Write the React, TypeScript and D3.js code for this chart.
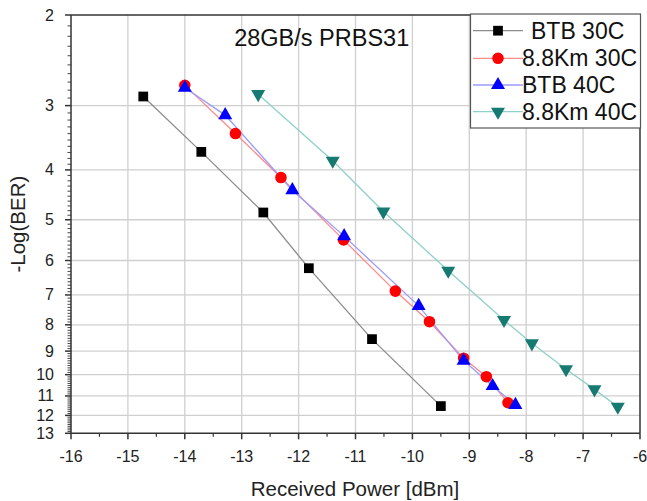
import React from "react";
import * as d3 from "d3";

const seriesNames = ["BTB 30C", "8.8Km 30C", "BTB 40C", "8.8Km 40C"];

const btb30X = [-14.73, -13.71, -12.62, -11.82, -10.71, -9.5];
const btb30Y = [2.88, 3.69, 4.84, 6.21, 8.53, 11.51];

const km30X = [-14.0, -13.11, -12.31, -11.21, -10.3, -9.7, -9.1, -8.7, -8.32];
const km30Y = [2.74, 3.4, 4.14, 5.47, 6.88, 7.89, 9.29, 10.09, 11.34];

const btb40X = [-14.0, -13.29, -12.11, -11.2, -9.89, -9.1, -8.59, -8.19];
const btb40Y = [2.77, 3.13, 4.38, 5.38, 7.35, 9.39, 10.52, 11.45];

const km40X = [-12.71, -11.4, -10.51, -9.37, -8.39, -7.9, -7.3, -6.8, -6.39];
const km40Y = [2.85, 3.84, 4.82, 6.28, 7.83, 8.69, 9.76, 10.68, 11.54];

const xTicks = [-16, -15, -14, -13, -12, -11, -10, -9, -8, -7, -6];
const yTicks = [2, 3, 4, 5, 6, 7, 8, 9, 10, 11, 12, 13];

const title = "28GB/s PRBS31";
const xLabel = "Received Power [dBm]";
const yLabel = "-Log(BER)";

const FONT = "'Liberation Sans', Arial, sans-serif";

const L = 71, R = 640, T = 15, B = 433.3;

const x = d3.scaleLinear().domain([-16, -6]).range([L, R]);
const y = d3.scaleLog().domain([2, 13]).range([T, B]);

type Style = { line: string; fill: string; shape: string; size: number };
const styles: Style[] = [
  { line: "#8c8c8c", fill: "#000000", shape: "square", size: 95 },
  { line: "#ff8a8a", fill: "#ff0000", shape: "circle", size: 105 },
  { line: "#9a9aff", fill: "#0000ff", shape: "tri", size: 85 },
  { line: "#8fd0c8", fill: "#167a72", shape: "tridown", size: 85 },
];

function markerPath(shape: string, size: number): string {
  if (shape === "square") return d3.symbol(d3.symbolSquare, size)()!;
  if (shape === "circle") return d3.symbol(d3.symbolCircle, size)()!;
  return d3.symbol(d3.symbolTriangle, size)()!;
}

export default function App() {
  const data = [
    { xs: btb30X, ys: btb30Y },
    { xs: km30X, ys: km30Y },
    { xs: btb40X, ys: btb40Y },
    { xs: km40X, ys: km40Y },
  ];
  const line = d3
    .line<[number, number]>()
    .x((d) => x(d[0]))
    .y((d) => y(d[1]));

  const minorY: number[] = [];
  for (let v = 2.1; v < 13; v += 0.1) {
    const r = Math.round(v * 10) / 10;
    if (Math.abs(r - Math.round(r)) > 1e-6) minorY.push(r);
  }
  const minorX: number[] = [];
  for (let v = -15.5; v < -6; v += 1) minorX.push(v);

  const legX0 = 473, legX1 = 523;
  const legYs = [30.7, 58.3, 85, 111.7];
  const legTextX = [531, 522, 522, 522];

  return (
    <svg
      width={647}
      height={501}
      style={{ position: "absolute", left: 0, top: 0, background: "#fff" }}
      fontFamily={FONT}
    >
      <rect x={0} y={0} width={647} height={501} fill="#fff" />
      {/* grid */}
      {xTicks.slice(1, -1).map((t) => (
        <line key={"gx" + t} x1={x(t)} x2={x(t)} y1={T} y2={B} stroke="#cfcfcf" strokeWidth={1.3} />
      ))}
      {yTicks.slice(1, -1).map((t) => (
        <line key={"gy" + t} x1={L} x2={R} y1={y(t)} y2={y(t)} stroke="#cfcfcf" strokeWidth={1.3} />
      ))}
      {/* series lines */}
      {data.map((s, i) => (
        <path
          key={"l" + i}
          d={line(s.xs.map((v, j) => [v, s.ys[j]] as [number, number]))!}
          fill="none"
          stroke={styles[i].line}
          strokeWidth={1.3}
        />
      ))}
      {/* markers */}
      {data.map((s, i) =>
        s.xs.map((v, j) => (
          <path
            key={"m" + i + "-" + j}
            d={markerPath(styles[i].shape, styles[i].size)}
            transform={`translate(${x(v)},${y(s.ys[j])})${styles[i].shape === "tridown" ? " rotate(180)" : ""}`}
            fill={styles[i].fill}
          />
        ))
      )}
      {/* axes frame */}
      <line x1={L} x2={R} y1={T} y2={T} stroke="#333" strokeWidth={1.5} />
      <line x1={R} x2={R} y1={T} y2={B} stroke="#333" strokeWidth={1.5} />
      <line x1={L} x2={R} y1={B} y2={B} stroke="#333" strokeWidth={1.5} />
      <line x1={L} x2={L} y1={T} y2={B} stroke="#333" strokeWidth={1.5} />
      {/* x ticks */}
      {xTicks.map((t) => (
        <g key={"xt" + t}>
          <line x1={x(t)} x2={x(t)} y1={B} y2={B + 6} stroke="#333" strokeWidth={1.5} />
          <text x={x(t)} y={462} textAnchor="middle" fontSize={16} fill="#222">
            {t}
          </text>
        </g>
      ))}
      {minorX.map((t) => (
        <line key={"mx" + t} x1={x(t)} x2={x(t)} y1={B} y2={B + 3.5} stroke="#333" strokeWidth={1.2} />
      ))}
      {/* y ticks */}
      {yTicks.map((t) => (
        <g key={"yt" + t}>
          <line x1={L - 6} x2={L} y1={y(t)} y2={y(t)} stroke="#333" strokeWidth={1.5} />
          <text x={54} y={y(t) + 5.5} textAnchor="end" fontSize={16} fill="#222">
            {t}
          </text>
        </g>
      ))}
      {minorY.map((t) => (
        <line key={"my" + t} x1={L - 3.5} x2={L} y1={y(t)} y2={y(t)} stroke="#333" strokeWidth={0.9} />
      ))}
      {/* title */}
      <text x={321.7} y={46} textAnchor="middle" fontSize={23.5} fill="#111">
        {title}
      </text>
      {/* axis labels */}
      <text x={355} y={496} textAnchor="middle" fontSize={20.5} fill="#222">
        {xLabel}
      </text>
      <text
        transform={`translate(25,${(T + B) / 2}) rotate(-90)`}
        textAnchor="middle"
        fontSize={20.5}
        fill="#222"
      >
        {yLabel}
      </text>
      {/* legend */}
      <rect x={470.5} y={14} width={170} height={114} fill="#fff" stroke="#555" strokeWidth={1.2} />
      {seriesNames.map((n, i) => (
        <g key={"lg" + i}>
          <line x1={legX0} x2={legX1} y1={legYs[i]} y2={legYs[i]} stroke={styles[i].line} strokeWidth={1.3} />
          <path
            d={markerPath(styles[i].shape, styles[i].size)}
            transform={`translate(${(legX0 + legX1) / 2},${legYs[i]})${styles[i].shape === "tridown" ? " rotate(180)" : ""}`}
            fill={styles[i].fill}
          />
          <text x={legTextX[i]} y={legYs[i] + 8} fontSize={23} fill="#111">
            {n}
          </text>
        </g>
      ))}
    </svg>
  );
}
